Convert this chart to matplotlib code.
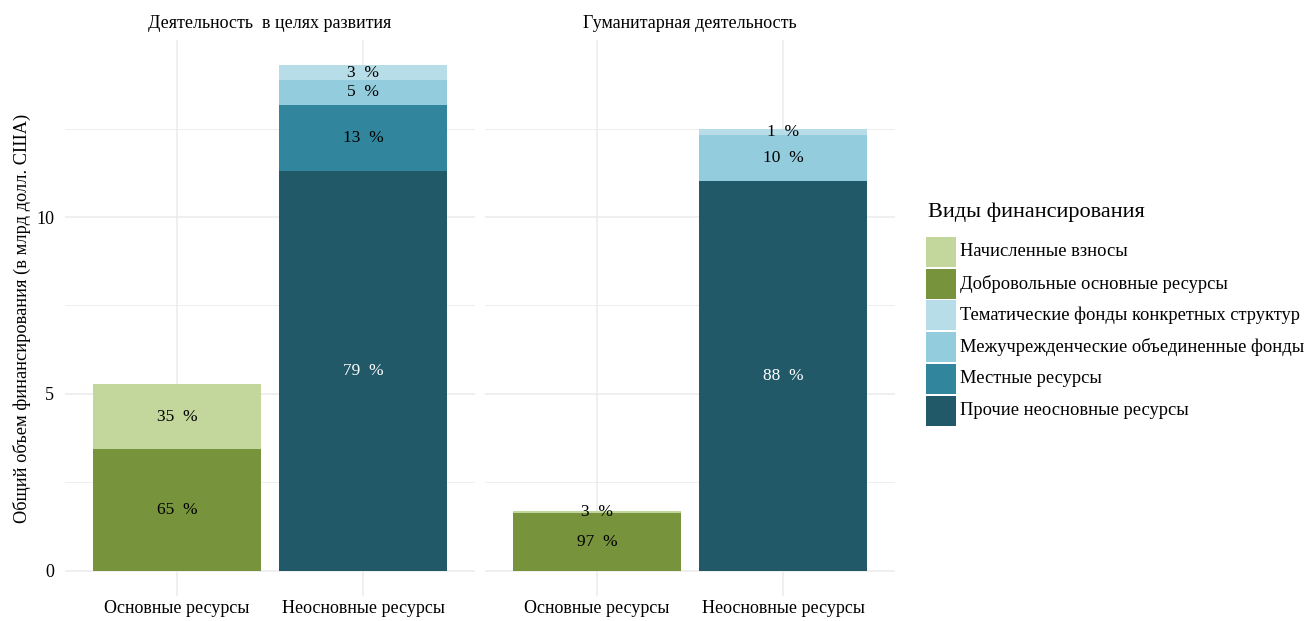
# -*- coding: utf-8 -*-
import matplotlib
matplotlib.use("Agg")
import matplotlib.pyplot as plt
from matplotlib.patches import Rectangle
import numpy as np

plt.rcParams['font.family'] = ['Liberation Serif', 'DejaVu Serif']

######## DATA ########
panels = ['Деятельность  в целях развития', 'Гуманитарная деятельность']
bars = ['Основные ресурсы', 'Неосновные ресурсы']
types = ['Начисленные взносы', 'Добровольные основные ресурсы',
         'Тематические фонды конкретных структур', 'Межучрежденческие объединенные фонды',
         'Местные ресурсы', 'Прочие неосновные ресурсы']
colors = ['#C3D69B', '#77933C', '#B7DEE8', '#93CDDD', '#31859C', '#215968']

# values in bn USD, stacked bottom -> top
dev_core = {'Добровольные основные ресурсы': 3.43, 'Начисленные взносы': 1.85}
dev_noncore = {'Прочие неосновные ресурсы': 11.30, 'Местные ресурсы': 1.87,
               'Межучрежденческие объединенные фонды': 0.71,
               'Тематические фонды конкретных структур': 0.41}
hum_core = {'Добровольные основные ресурсы': 1.64, 'Начисленные взносы': 0.05}
hum_noncore = {'Прочие неосновные ресурсы': 11.02,
               'Межучрежденческие объединенные фонды': 1.30,
               'Тематические фонды конкретных структур': 0.18}
data = [[dev_core, dev_noncore], [hum_core, hum_noncore]]

W, H = 1307, 621
fig = plt.figure(figsize=(W / 100, H / 100), dpi=100)

def fx(px):
    return px / W

def fy(py):
    return 1 - py / H

ymax = 14.29
ylo, yhi = -0.05 * ymax, ymax * 1.05
panel_x = [(65.4, 474.6), (485.4, 894.6)]
top_px, bot_px = 40, 596

for p, (x0, x1) in enumerate(panel_x):
    ax = fig.add_axes([fx(x0), fy(bot_px), fx(x1 - x0), fy(top_px) - fy(bot_px)])
    ax.set_xlim(0.4, 2.6)
    ax.set_ylim(ylo, yhi)
    for s in ax.spines.values():
        s.set_visible(False)
    ax.set_yticks([0, 5, 10])
    ax.set_yticks([2.5, 7.5, 12.5], minor=True)
    ax.set_xticks([1, 2])
    ax.set_xticklabels(bars, fontsize=13)
    ax.grid(True, which='major', color='#EBEBEB', linewidth=1.1)
    ax.grid(True, which='minor', axis='y', color='#EBEBEB', linewidth=0.6)
    ax.set_axisbelow(True)
    ax.tick_params(which='both', length=0, labelsize=13)
    ax.tick_params(axis='x', pad=3)
    ax.tick_params(axis='y', pad=8)
    if p == 0:
        ax.set_ylabel('Общий объем финансирования (в млрд долл. США)', fontsize=13.2, labelpad=4)
    else:
        ax.set_yticklabels([])
    ax.set_title(panels[p], fontsize=13, pad=9)

    for i, stack in enumerate(data[p]):
        total = sum(stack.values())
        bottom = 0
        for name, val in stack.items():
            c = colors[types.index(name)]
            ax.bar(i + 1, val, bottom=bottom, width=0.9, color=c, linewidth=0)
            pct = int(round(100 * val / total))
            tc = 'white' if name == 'Прочие неосновные ресурсы' else 'black'
            ax.text(i + 1, bottom + val / 2, f'{pct}  %', ha='center', va='center',
                    fontsize=12.5, color=tc)
            bottom += val

######## LEGEND ########
fig.text(fx(928), fy(212), 'Виды финансирования', fontsize=16, va='center', ha='left')
for k, (t, c) in enumerate(zip(types, colors)):
    ytop = 237 + k * 31.7
    fig.add_artist(Rectangle((fx(926), fy(ytop + 30)), fx(30), fy(ytop) - fy(ytop + 30),
                             transform=fig.transFigure, color=c, linewidth=0))
    fig.text(fx(960), fy(ytop + 15), t, fontsize=13.3, va='center', ha='left')

plt.savefig('out.png', dpi=100)
